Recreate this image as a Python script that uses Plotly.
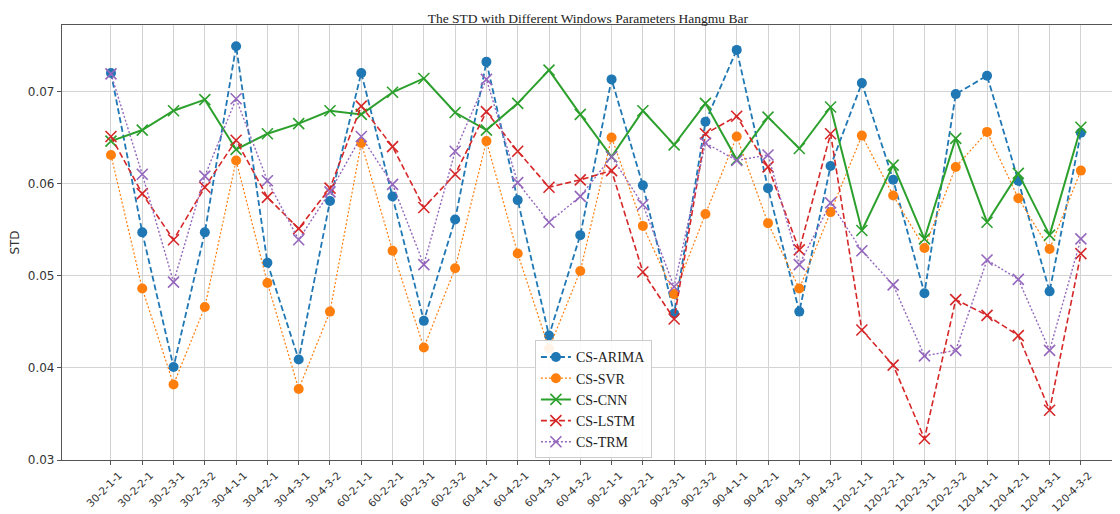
import plotly.graph_objects as go

categories = [
    "30-2-1-1", "30-2-2-1", "30-2-3-1", "30-2-3-2", "30-4-1-1", "30-4-2-1", "30-4-3-1", "30-4-3-2",
    "60-2-1-1", "60-2-2-1", "60-2-3-1", "60-2-3-2", "60-4-1-1", "60-4-2-1", "60-4-3-1", "60-4-3-2",
    "90-2-1-1", "90-2-2-1", "90-2-3-1", "90-2-3-2", "90-4-1-1", "90-4-2-1", "90-4-3-1", "90-4-3-2",
    "120-2-1-1", "120-2-2-1", "120-2-3-1", "120-2-3-2", "120-4-1-1", "120-4-2-1", "120-4-3-1", "120-4-3-2",
]

cs_arima = [0.0720, 0.0547, 0.0401, 0.0547, 0.0749, 0.0514, 0.0409, 0.0581,
            0.0720, 0.0586, 0.0451, 0.0561, 0.0732, 0.0582, 0.0435, 0.0544,
            0.0713, 0.0598, 0.0459, 0.0667, 0.0745, 0.0595, 0.0461, 0.0619,
            0.0709, 0.0604, 0.0481, 0.0697, 0.0717, 0.0603, 0.0483, 0.0655]
cs_svr = [0.0631, 0.0486, 0.0382, 0.0466, 0.0625, 0.0492, 0.0377, 0.0461,
          0.0644, 0.0527, 0.0422, 0.0508, 0.0646, 0.0524, 0.0421, 0.0505,
          0.0650, 0.0554, 0.0480, 0.0567, 0.0651, 0.0557, 0.0486, 0.0569,
          0.0652, 0.0587, 0.0530, 0.0618, 0.0656, 0.0584, 0.0529, 0.0614]
cs_cnn = [0.0646, 0.0658, 0.0679, 0.0691, 0.0637, 0.0654, 0.0665, 0.0679,
          0.0675, 0.0699, 0.0714, 0.0677, 0.0658, 0.0687, 0.0723, 0.0675,
          0.0629, 0.0679, 0.0642, 0.0687, 0.0626, 0.0672, 0.0638, 0.0683,
          0.0549, 0.0620, 0.0540, 0.0649, 0.0558, 0.0611, 0.0544, 0.0661]
cs_lstm = [0.0651, 0.0589, 0.0539, 0.0596, 0.0647, 0.0585, 0.0551, 0.0595,
           0.0684, 0.0640, 0.0574, 0.0610, 0.0678, 0.0635, 0.0596, 0.0604,
           0.0614, 0.0504, 0.0453, 0.0654, 0.0673, 0.0618, 0.0528, 0.0654,
           0.0441, 0.0403, 0.0323, 0.0474, 0.0457, 0.0435, 0.0354, 0.0524]
cs_trm = [0.0719, 0.0610, 0.0493, 0.0608, 0.0692, 0.0603, 0.0539, 0.0591,
          0.0651, 0.0599, 0.0512, 0.0635, 0.0713, 0.0601, 0.0558, 0.0586,
          0.0629, 0.0577, 0.0488, 0.0644, 0.0625, 0.0631, 0.0512, 0.0579,
          0.0527, 0.0490, 0.0413, 0.0419, 0.0517, 0.0496, 0.0419, 0.0540]

y_ticks = [0.03, 0.04, 0.05, 0.06, 0.07]
y_tick_labels = ["0.03", "0.04", "0.05", "0.06", "0.07"]

series = [
    ("CS-ARIMA", cs_arima, "#1f77b4", "6px,3px", "circle", 1.8),
    ("CS-SVR", cs_svr, "#ff7f0e", "2px,2px", "circle", 1.2),
    ("CS-CNN", cs_cnn, "#2ca02c", "solid", "x-thin", 2.0),
    ("CS-LSTM", cs_lstm, "#d62728", "6px,3px", "x-thin", 1.6),
    ("CS-TRM", cs_trm, "#9467bd", "2px,2px", "x-thin", 1.4),
]

fig = go.Figure()
for name, vals, color, dash, sym, lw in series:
    if sym == "circle":
        marker = dict(symbol="circle", size=10, color=color, line=dict(width=0))
    else:
        marker = dict(symbol="x-thin", size=11, color=color, line=dict(width=1.6, color=color))
    fig.add_trace(go.Scatter(
        x=list(range(len(categories))), y=vals, name=name, mode="lines+markers",
        line=dict(color=color, width=lw, dash=dash), marker=marker,
    ))

# page body has an 8px margin, so the figure is offset accordingly
fig.update_layout(
    width=1112, height=506,
    margin=dict(l=54, r=0, t=17, b=54, autoexpand=False),
    paper_bgcolor="white", plot_bgcolor="white",
    title=dict(text="The STD with Different Windows Parameters Hangmu Bar",
               x=0.497, xanchor="center", xref="paper", y=0.99, yanchor="top",
               font=dict(family="Liberation Serif", size=13.5, color="#222")),
    showlegend=True,
    legend=dict(x=0.447, y=0.275, xanchor="left", yanchor="top",
                bgcolor="rgba(255,255,255,0.9)", bordercolor="#cccccc", borderwidth=1,
                font=dict(family="Liberation Serif", size=14, color="#222"),
                tracegroupgap=0, itemwidth=30),
)

fig.update_xaxes(
    range=[-1.565, 32.25],
    tickmode="array", tickvals=list(range(len(categories))), ticktext=categories,
    tickangle=-45, ticklabelshift=8,
    tickfont=dict(family="DejaVu Sans", size=10.5, color="#333"),
    showgrid=True, gridcolor="#d3d3d3", gridwidth=1,
    showline=True, linecolor="#555", linewidth=1.2, mirror=True,
    ticks="outside", ticklen=4, tickcolor="#555",
    zeroline=False, automargin=False,
)
fig.update_yaxes(
    range=[0.03, 0.0772],
    tickmode="array", tickvals=y_ticks, ticktext=y_tick_labels,
    tickfont=dict(family="DejaVu Sans", size=12, color="#333"),
    title=dict(text="STD", font=dict(family="DejaVu Sans", size=12, color="#333"), standoff=8),
    showgrid=True, gridcolor="#d3d3d3", gridwidth=1,
    showline=True, linecolor="#555", linewidth=1.2,
    ticks="outside", ticklen=4, tickcolor="#555",
    zeroline=False, automargin=False,
)

fig.write_html("out.html")
